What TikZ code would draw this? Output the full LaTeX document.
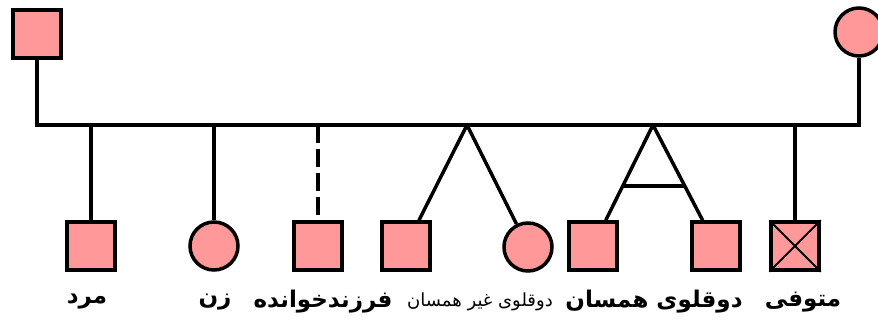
\documentclass[tikz,border=0pt]{standalone}
\usepackage{fontspec}
\newfontfamily\arabicfont[Script=Arabic]{DejaVu Sans}
\TeXXeTstate=1
\usepackage{tikz}
\usetikzlibrary{calc, positioning}
\definecolor{pedpink}{RGB}{255,153,153}

\begin{document}
\begin{tikzpicture}[x=1pt, y=-1pt, line width=3.5pt,
  male/.style={draw, fill=pedpink, minimum size=48pt, inner sep=0pt},
  female/.style={draw, circle, fill=pedpink, minimum size=48pt, inner sep=0pt},
  tag/.style={inner sep=0pt, font=\arabicfont\bfseries\fontsize{23}{23}\selectfont},
  smalltag/.style={inner sep=0pt, font=\arabicfont\fontsize{18}{18}\selectfont}]
\useasboundingbox (0,0) rectangle (878,323);
% parents
\node[male] (f) at (37,34) {};
\node[female] (m) at (859,32) {};
\coordinate (bar) at (0,125);
\draw (f) -- (f |- bar) -- (m |- bar) -- (m);
% children
\node[male] (c1) at (91,246) {};
\node[female] (c2) at (214,246) {};
\node[male] (c3) at (318,246) {};
\node[male] (c4) at (406,246) {};
\node[female] (c5) at (528,247) {};
\node[male] (c6) at (593,246) {};
\node[male] (c7) at (716,246) {};
\node[male] (c8) at (795,246) {};
\draw[line width=2pt] (c8.north west) -- (c8.south east) (c8.north east) -- (c8.south west);
\draw (c1) -- (c1 |- bar);
\draw (c2) -- (c2 |- bar);
\draw[dash pattern=on 18pt off 6pt] (c3 |- bar) -- (c3);
\coordinate (t1) at (467,125);
\draw (t1) -- (c4);
\draw (t1) -- (c5);
\coordinate (t2) at (653,125);
\draw (t2) -- coordinate[pos=0.64] (k1) (c6);
\draw (t2) -- coordinate[pos=0.64] (k2) (c7);
\draw (k1) -- (k2);
\draw (c8) -- (c8 |- bar);
% captions
\node[tag] (l1) at (87,302) {\beginR مرد\endR};
\node[tag] (l2) at (215,302) {\beginR زن\endR};
\node[tag] (l3) at (323,302) {\beginR فرزندخوانده\endR};
\node[smalltag] (l4) at (480,302) {\beginR دوقلوی غیر همسان\endR};
\node[tag] (l5) at (654,302) {\beginR دوقلوی همسان\endR};
\node[tag] (l6) at (803,302) {\beginR متوفی\endR};
\end{tikzpicture}
\end{document}
